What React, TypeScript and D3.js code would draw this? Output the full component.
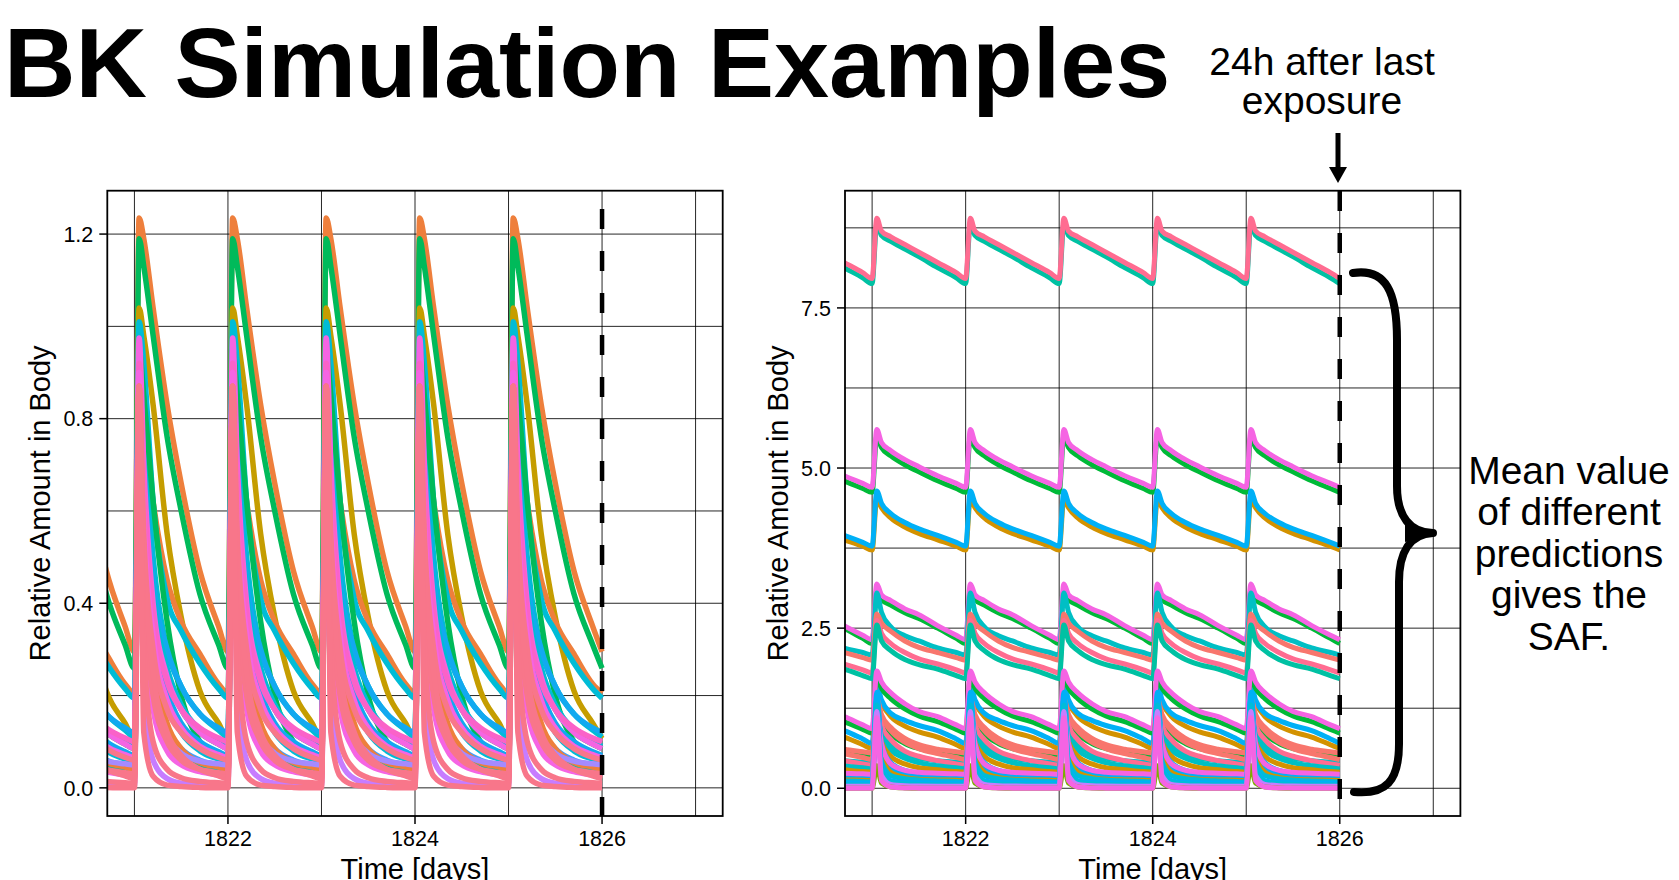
import * as d3 from "d3";

// dosing repeats daily; each profile = values at cycleOffsets after a dose (steady state)
const doseDays = [1820, 1821, 1822, 1823, 1824, 1825];
const cycleOffsets = [0, 0.05, 0.1, 0.2, 0.35, 0.5, 0.7, 0.9, 1.0];
const xGridDays = [1821, 1822, 1823, 1824, 1825, 1826, 1827];
const xTickDays = [1822, 1824, 1826];
const lastExposureDay = 1826;

const leftYGrid = [0, 0.2, 0.4, 0.6, 0.8, 1.0, 1.2];
const leftYTicks = [0, 0.4, 0.8, 1.2];
const rightYGrid = [0, 1.25, 2.5, 3.75, 5, 6.25, 7.5, 8.75];
const rightYTicks = [0, 2.5, 5, 7.5];

const leftProfiles = [
  [0.295, 1.235, 1.19, 1.04, 0.83, 0.66, 0.47, 0.35, 0.295],
  [0.259, 1.19, 1.13, 0.98, 0.76, 0.6, 0.42, 0.31, 0.259],
  [0.107, 1.04, 0.98, 0.83, 0.55, 0.37, 0.21, 0.14, 0.107],
  [0.205, 0.85, 0.78, 0.62, 0.45, 0.36, 0.29, 0.225, 0.205],
  [0.194, 1.01, 0.92, 0.62, 0.41, 0.34, 0.27, 0.215, 0.194],
  [0.11, 0.95, 0.78, 0.5, 0.3, 0.22, 0.16, 0.125, 0.11],
  [0.05, 0.95, 0.85, 0.62, 0.36, 0.2, 0.1, 0.065, 0.05],
  [0.085, 0.85, 0.65, 0.4, 0.24, 0.17, 0.12, 0.095, 0.085],
  [0.03, 0.75, 0.5, 0.26, 0.12, 0.07, 0.045, 0.035, 0.03],
  [0.12, 0.9, 0.7, 0.45, 0.3, 0.22, 0.16, 0.13, 0.12],
  [0.09, 0.9, 0.68, 0.42, 0.26, 0.18, 0.125, 0.1, 0.09],
  [0.07, 0.95, 0.62, 0.36, 0.21, 0.14, 0.1, 0.078, 0.07],
  [0.055, 0.9, 0.58, 0.32, 0.18, 0.12, 0.08, 0.062, 0.055],
  [0.045, 0.85, 0.5, 0.25, 0.13, 0.085, 0.06, 0.05, 0.045],
  [0.035, 0.8, 0.42, 0.2, 0.1, 0.065, 0.045, 0.038, 0.035],
  [0.04, 0.8, 0.55, 0.28, 0.14, 0.085, 0.055, 0.045, 0.04],
  [0.005, 0.8, 0.2, 0.06, 0.02, 0.01, 0.007, 0.005, 0.005],
  [0.05, 0.82, 0.42, 0.2, 0.11, 0.075, 0.058, 0.052, 0.05],
  [0.085, 0.975, 0.7, 0.4, 0.24, 0.17, 0.12, 0.095, 0.085],
  [0.1, 0.92, 0.66, 0.38, 0.23, 0.17, 0.13, 0.108, 0.1],
  [0.065, 0.9, 0.58, 0.33, 0.19, 0.13, 0.09, 0.072, 0.065],
  [0.025, 0.9, 0.4, 0.17, 0.08, 0.05, 0.035, 0.028, 0.025],
  [0.06, 0.87, 0.55, 0.3, 0.17, 0.12, 0.085, 0.066, 0.06],
  [0.03, 0.87, 0.45, 0.2, 0.1, 0.06, 0.04, 0.033, 0.03],
  [0.02, 0.87, 0.5, 0.25, 0.12, 0.07, 0.04, 0.026, 0.02],
  [0.01, 0.87, 0.3, 0.1, 0.04, 0.022, 0.014, 0.011, 0.01],
  [0.0, 0.87, 0.12, 0.025, 0.006, 0.003, 0.001, 0.0, 0.0],
];
const leftColors = [
  "#EE7F3C", "#00BA5A", "#C59D00", "#EE7F3C", "#00BCD6", "#00BCD6",
  "#00BA5A", "#00BA5A", "#C59D00", "#12A9F0", "#00BCD6", "#12A9F0",
  "#00BCD6", "#3DA0FF", "#00C0A8", "#EE7F3C", "#C77CFF", "#A58AFF",
  "#F564E3", "#FA62C8", "#F564E3", "#F564E3", "#F8768A", "#F8768A",
  "#F8768A", "#F8768A", "#F8768A",
];

const rightProfiles = [
  [7.88, 8.82, 8.63, 8.54, 8.42, 8.3, 8.13, 7.97, 7.88],
  [7.96, 8.9, 8.7, 8.61, 8.49, 8.37, 8.21, 8.05, 7.96],
  [4.62, 5.5, 5.32, 5.19, 5.05, 4.94, 4.8, 4.68, 4.62],
  [4.7, 5.6, 5.4, 5.27, 5.13, 5.02, 4.88, 4.76, 4.7],
  [3.72, 4.52, 4.38, 4.22, 4.08, 3.98, 3.88, 3.78, 3.72],
  [3.78, 4.64, 4.45, 4.29, 4.15, 4.05, 3.95, 3.84, 3.78],
  [2.26, 3.1, 2.95, 2.86, 2.74, 2.65, 2.5, 2.34, 2.26],
  [2.32, 3.19, 3.02, 2.93, 2.8, 2.71, 2.54, 2.39, 2.32],
  [2.08, 3.05, 2.75, 2.52, 2.38, 2.3, 2.19, 2.12, 2.08],
  [2.0, 2.72, 2.58, 2.45, 2.3, 2.2, 2.12, 2.04, 2.0],
  [1.8, 2.62, 2.42, 2.26, 2.12, 2.02, 1.94, 1.85, 1.8],
  [1.71, 2.55, 2.3, 2.15, 2.01, 1.93, 1.86, 1.76, 1.71],
  [0.62, 1.45, 1.32, 1.12, 0.97, 0.88, 0.8, 0.68, 0.62],
  [0.7, 1.62, 1.38, 1.17, 1.06, 0.98, 0.9, 0.77, 0.7],
  [0.86, 1.72, 1.56, 1.4, 1.24, 1.13, 1.04, 0.92, 0.86],
  [0.93, 1.83, 1.66, 1.49, 1.32, 1.2, 1.12, 0.99, 0.93],
  [0.5, 1.3, 1.05, 0.85, 0.7, 0.62, 0.56, 0.52, 0.5],
  [0.4, 1.2, 0.9, 0.68, 0.54, 0.47, 0.43, 0.41, 0.4],
  [0.55, 1.4, 1.15, 0.95, 0.78, 0.68, 0.61, 0.57, 0.55],
  [0.45, 1.35, 1.12, 0.9, 0.72, 0.62, 0.54, 0.48, 0.45],
  [0.36, 1.25, 0.98, 0.76, 0.58, 0.5, 0.43, 0.38, 0.36],
  [0.3, 1.15, 0.82, 0.6, 0.47, 0.4, 0.35, 0.32, 0.3],
  [0.25, 1.05, 0.72, 0.5, 0.38, 0.32, 0.29, 0.26, 0.25],
  [0.2, 1.4, 0.7, 0.4, 0.28, 0.24, 0.22, 0.21, 0.2],
  [0.15, 1.5, 0.6, 0.32, 0.22, 0.19, 0.17, 0.155, 0.15],
  [0.12, 1.1, 0.5, 0.25, 0.17, 0.14, 0.13, 0.125, 0.12],
  [0.1, 1.3, 0.42, 0.2, 0.15, 0.13, 0.115, 0.105, 0.1],
  [0.22, 1.2, 0.7, 0.38, 0.28, 0.25, 0.235, 0.225, 0.22],
  [0.08, 1.4, 0.35, 0.12, 0.09, 0.085, 0.082, 0.08, 0.08],
  [0.05, 1.3, 0.3, 0.1, 0.07, 0.06, 0.055, 0.05, 0.05],
  [0.03, 1.2, 0.2, 0.06, 0.04, 0.035, 0.032, 0.03, 0.03],
  [0.0, 0.35, 0.08, 0.02, 0.005, 0.0, 0.0, 0.0, 0.0],
  [0.0, 1.1, 0.12, 0.02, 0.005, 0.002, 0.0, 0.0, 0.0],
];
const rightColors = [
  "#00C1A3", "#FF6C91", "#00BA38", "#F564E3", "#D39200", "#00B0F6",
  "#00BA38", "#F564E3", "#00BFC4", "#F8766D", "#FF6C91", "#00C1A3",
  "#D39200", "#00B0F6", "#00BA38", "#F564E3", "#00BA38", "#00BFC4",
  "#F8766D", "#F8766D", "#FF6C91", "#00BFC4", "#D39200", "#00B0F6",
  "#00B0F6", "#D39200", "#00BCD8", "#F564E3", "#00B0F6", "#00BCD8",
  "#C77CFF", "#7CAE00", "#F564E3",
];

const FONT = "'Liberation Sans', Arial, Helvetica, sans-serif";
const TOP = 190.7;
const BOTTOM = 816;

function cyclePoints(profile: number[]) {
  const pts: [number, number][] = [];
  doseDays.forEach((day, k) => {
    cycleOffsets.forEach((o, i) => {
      if (k > 0 && i === 0) return;
      pts.push([day + o, profile[i]]);
    });
  });
  return pts;
}

type PanelProps = {
  id: string;
  left: number;
  width: number;
  yDomain: [number, number];
  yGrid: number[];
  yTicks: number[];
  profiles: number[][];
  colors: string[];
  lineWidth: number;
  dashTop: number;
};

function Panel({ id, left, width, yDomain, yGrid, yTicks, profiles, colors, lineWidth, dashTop }: PanelProps) {
  const x = d3.scaleLinear().domain([1820.71, 1827.29]).range([left, left + width]);
  const y = d3.scaleLinear().domain(yDomain).range([BOTTOM, TOP]);
  const line = d3
    .line<[number, number]>()
    .x((d) => x(d[0]))
    .y((d) => y(d[1]))
    .curve(d3.curveMonotoneX);

  const right = left + width;
  const dashX = x(lastExposureDay);

  return (
    <g>
      <defs>
        <clipPath id={id}>
          <rect x={left} y={TOP} width={width} height={BOTTOM - TOP} />
        </clipPath>
      </defs>

      {/* grid */}
      {xGridDays.map((d) => (
        <line key={"gx" + d} x1={x(d)} x2={x(d)} y1={TOP} y2={BOTTOM} stroke="#000" strokeWidth={1} strokeOpacity={0.85} />
      ))}
      {yGrid.map((v) => (
        <line key={"gy" + v} x1={left} x2={right} y1={y(v)} y2={y(v)} stroke="#000" strokeWidth={1} strokeOpacity={0.85} />
      ))}

      {/* curves */}
      <g clipPath={`url(#${id})`} fill="none" strokeLinejoin="round">
        {profiles.map((p, i) => (
          <path key={i} d={line(cyclePoints(p)) || ""} stroke={colors[i]} strokeWidth={lineWidth} />
        ))}
      </g>

      {/* 24h after last exposure */}
      <line x1={dashX} x2={dashX} y1={dashTop} y2={BOTTOM} stroke="#000" strokeWidth={4.5} strokeDasharray="20 22" />

      {/* frame */}
      <rect x={left} y={TOP} width={width} height={BOTTOM - TOP} fill="none" stroke="#000" strokeWidth={1.8} />

      {/* ticks */}
      {xTickDays.map((d) => (
        <g key={"tx" + d}>
          <line x1={x(d)} x2={x(d)} y1={BOTTOM} y2={BOTTOM + 8} stroke="#000" strokeWidth={1.5} />
          <text x={x(d)} y={846} textAnchor="middle" fontSize={21.5} fontFamily={FONT}>
            {d}
          </text>
        </g>
      ))}
      {yTicks.map((v) => (
        <g key={"ty" + v}>
          <line x1={left - 8} x2={left} y1={y(v)} y2={y(v)} stroke="#000" strokeWidth={1.5} />
          <text x={left - 14} y={y(v)} dy="0.36em" textAnchor="end" fontSize={21.5} fontFamily={FONT}>
            {v.toFixed(1)}
          </text>
        </g>
      ))}

      <text x={(left + right) / 2} y={878.5} textAnchor="middle" fontSize={29} fontFamily={FONT}>
        Time [days]
      </text>
      <text
        transform={`translate(${left - 57},${(TOP + BOTTOM) / 2}) rotate(-90)`}
        textAnchor="middle"
        fontSize={29}
        fontFamily={FONT}
      >
        Relative Amount in Body
      </text>
    </g>
  );
}

export default function App() {
  const noteLines = ["Mean value", "of different", "predictions", "gives the", "SAF."];
  return (
    <svg
      width={1679}
      height={880}
      style={{ position: "fixed", left: 0, top: 0, background: "#fff", display: "block" }}
    >
      <rect width={1679} height={880} fill="#fff" />
      <text x={4} y={97} fontSize={99} fontWeight="bold" fontFamily={FONT}>
        BK Simulation Examples
      </text>

      <Panel
        id="clipLeft"
        left={107.3}
        width={615.4}
        yDomain={[-0.061, 1.294]}
        yGrid={leftYGrid}
        yTicks={leftYTicks}
        profiles={leftProfiles}
        colors={leftColors}
        lineWidth={5.5}
        dashTop={209}
      />
      <Panel
        id="clipRight"
        left={845}
        width={615.4}
        yDomain={[-0.433, 9.33]}
        yGrid={rightYGrid}
        yTicks={rightYTicks}
        profiles={rightProfiles}
        colors={rightColors}
        lineWidth={5}
        dashTop={191}
      />

      {/* annotation above right panel */}
      <text x={1322} y={75} textAnchor="middle" fontSize={39} fontFamily={FONT}>
        24h after last
      </text>
      <text x={1322} y={114} textAnchor="middle" fontSize={39} fontFamily={FONT}>
        exposure
      </text>
      <rect x={1335.5} y={133} width={5} height={36} fill="#000" />
      <path d="M1329,167 L1347,167 L1338,183 Z" fill="#000" />

      {/* brace */}
      <path
        d="M1353,273 C1386,268 1397,292 1397,340 L1397,486 C1397,516 1410,533 1433,533 C1410,534 1399,552 1399,582 L1399,744 C1399,781 1386,795 1354,792"
        fill="none"
        stroke="#000"
        strokeWidth={8}
        strokeLinecap="round"
        strokeLinejoin="round"
      />
      <path d="M1405,524 L1436,533 L1405,542 Z" fill="#000" />

      {noteLines.map((t, i) => (
        <text key={t} x={1569} y={484 + i * 41.4} textAnchor="middle" fontSize={39} fontFamily={FONT}>
          {t}
        </text>
      ))}
    </svg>
  );
}
